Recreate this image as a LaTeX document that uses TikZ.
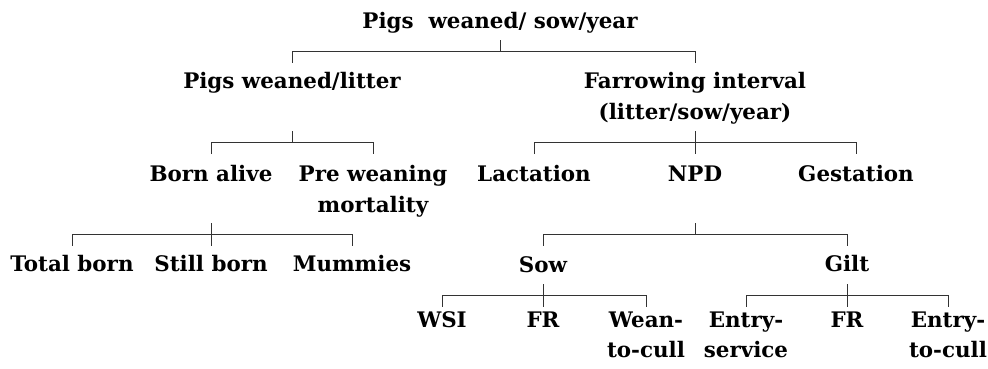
\documentclass[tikz,border=0pt]{standalone}
\usepackage{fontspec}
\setmainfont{DejaVu Serif}
\begin{document}
\begin{tikzpicture}[
  x=1pt, y=-1pt,
  item/.style={anchor=north, inner sep=0pt, align=center,
               font=\fontsize{21.4}{30.5}\selectfont\bfseries},
  link/.style={black!80, line width=1pt},
  ]
\useasboundingbox (0,0) rectangle (988,368);

% ---- Level 1 ---------------------------------------------------------------
\node[item] (top) at (500,12) {Pigs~ weaned/ sow/year};

% ---- Level 2 ---------------------------------------------------------------
\node[item] (litter) at (292,72.5) {Pigs weaned/litter};
\node[item] (farrow) at (695,72.5) {Farrowing interval\\(litter/sow/year)};

% ---- Level 3 ---------------------------------------------------------------
\node[item] (born)    at (211,165.5) {Born alive};
\node[item] (prewean) at (373,165.5) {Pre weaning\\mortality};
\node[item] (lact)    at (534,165.5) {Lactation};
\node[item] (npd)     at (695,166)   {NPD};
\node[item] (gest)    at (856,165.5) {Gestation};

% ---- Level 4 ---------------------------------------------------------------
\node[item] (total) at (72,255.5)  {Total born};
\node[item] (still) at (211,255.5) {Still born};
\node[item] (mumm)  at (352,255.5) {Mummies};
\node[item] (sow)   at (543,256)   {Sow};
\node[item] (gilt)  at (847,255.5) {Gilt};

% ---- Level 5 ---------------------------------------------------------------
\node[item] (wsi)    at (442,311.5) {WSI};
\node[item] (fra)    at (543,311.5) {FR};
\node[item] (wean)   at (646,311.5) {Wean-\\to-cull};
\node[item] (entrya) at (746,311.5) {Entry-\\service};
\node[item] (frb)    at (847,311.5) {FR};
\node[item] (entryb) at (948,311.5) {Entry-\\to-cull};

% ---- Junctions -------------------------------------------------------------
\coordinate (j1) at (top |- 0,51);
\coordinate (j2) at (litter |- 0,142.7);
\coordinate (j3) at (farrow |- 0,142.7);
\coordinate (j4) at (born |- 0,234);
\coordinate (j5) at (npd |- 0,234);
\coordinate (j6) at (sow |- 0,295);
\coordinate (j7) at (gilt |- 0,295);

% stubs down from parents
\foreach \j in {j1,j2,j3,j4,j5,j6,j7}
  \draw[link] (\j) -- ++(0,-11.5);
% bars with outer drops
\foreach \j/\a/\b in {j1/litter/farrow, j2/born/prewean, j3/lact/gest,
                      j4/total/mumm, j5/sow/gilt, j6/wsi/wean, j7/entrya/entryb}
  \draw[link] (\j -| \a) ++(0,11.5) |- (\j -| \b) -- ++(0,11.5);
% middle drops
\foreach \j/\c in {j3/npd, j4/still, j6/fra, j7/frb}
  \draw[link] (\j -| \c) -- ++(0,11.5);

\end{tikzpicture}
\end{document}
